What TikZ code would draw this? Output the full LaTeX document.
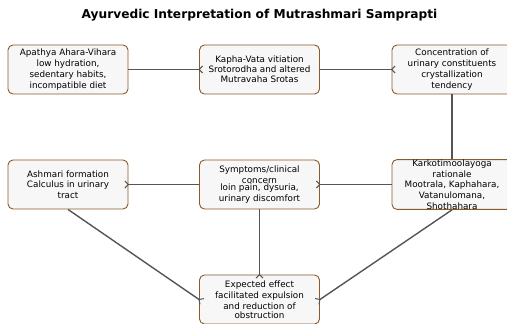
\documentclass[tikz,border=0pt]{standalone}
\usepackage{fontspec}
\setmainfont{DejaVu Sans}
\usetikzlibrary{arrows.meta}
\definecolor{boxborder}{RGB}{139,90,43}
\definecolor{boxfill}{RGB}{247,247,247}
\definecolor{linkcol}{RGB}{85,85,85}
\tikzset{
  stagebox/.style={draw=boxborder, fill=boxfill, line width=0.9pt, rounded corners=5pt,
    minimum width=120pt, minimum height=49pt, inner sep=0pt, align=center,
    font=\fontsize{8.8}{11}\selectfont},
  link/.style={draw=linkcol, line width=1.4pt, shorten >=-4pt,
    -{Straight Barb[reversed,length=3.5pt,width=7pt,line width=1pt]}},
  plainlink/.style={draw=linkcol, line width=1.4pt}
}
\begin{document}
\begin{tikzpicture}[x=1pt,y=1pt]
\useasboundingbox (0,0) rectangle (507,324);
\fill[white] (0,0) rectangle (507,324);
\node[font=\fontsize{12.2}{14}\selectfont\bfseries] (title) at (259.5,309) {Ayurvedic Interpretation of Mutrashmari Samprapti};

\node[stagebox] (a) at (68,254.5) {Apathya Ahara-Vihara\\low hydration,\\sedentary habits,\\incompatible diet};
\node[stagebox] (b) at (259.5,254.5) {Kapha-Vata vitiation\\[-0.8pt]Srotorodha and altered\\[-0.8pt]Mutravaha Srotas};
\node[stagebox] (c) at (452,254.5) {Concentration of\\urinary constituents\\crystallization\\tendency};
\node[stagebox] (d) at (68,139.5) {Ashmari formation\\[-1pt]Calculus in urinary\\tract};
\node[stagebox] (e) at (259.5,139.5) {Symptoms/clinical\\concern\\[-3.5pt]loin pain, dysuria,\\urinary discomfort};
\node[stagebox] (f) at (452,139.5) {Karkotimoolayoga\\rationale\\[-1pt]Mootrala, Kaphahara,\\Vatanulomana,\\Shothahara};
\node[stagebox] (g) at (259.5,24.5) {Expected effect\\facilitated expulsion\\and reduction of\\[-1.5pt]obstruction};

\draw[link] (a.east) -- (b.west);
\draw[link] (b.east) -- (c.west);
\draw[plainlink] (c.south) -- (f.north);
\draw[link] (f.west) -- (e.east);
\draw[link] (e.west) -- (d.east);
\draw[link] (d.south) -- (g.west);
\draw[link] (e.south) -- (g.north);
\draw[link] (f.south) -- (g.east);
\end{tikzpicture}
\end{document}
